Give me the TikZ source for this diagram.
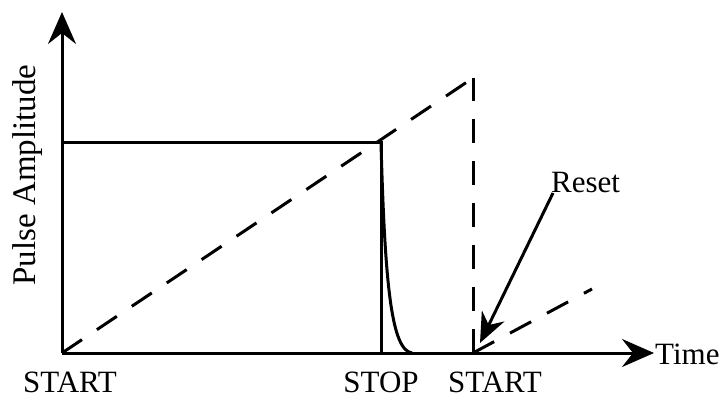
\documentclass[tikz,border=0pt]{standalone}
\usepackage{fontspec}
\setmainfont{Liberation Serif}
\usetikzlibrary{arrows.meta}
\begin{document}
\begin{tikzpicture}[x=1pt,y=-1pt,
  solidline/.style={line width=3pt},
  dashline/.style={line width=3pt, dash pattern=on 24pt off 18pt},
  axisarrow/.style={-{Stealth[length=32pt,width=28pt,inset=11pt]}},
  lbl/.style={font=\fontsize{31}{31}\selectfont, inner sep=0pt}]
\useasboundingbox (0,0) rectangle (722,398);
\coordinate (O) at (62,353);
\coordinate (Ytop) at (62,12);
\coordinate (Xend) at (654,353);
\coordinate (H0) at (62,143);
\coordinate (H1) at (381,143);
\coordinate (S) at (381,353);
\coordinate (D) at (412,353);
\coordinate (P) at (473,78);
\coordinate (R) at (473,353);
\coordinate (R2) at (592,289);
\coordinate (Rt) at (480,343);
\coordinate (Rs) at (553,193);
% axes
\draw[solidline, axisarrow] (O) -- (Ytop);
\draw[solidline, axisarrow] (O) -- (Xend);
% pulse
\draw[solidline] (H0) -- (H1) -- (S);
\draw[solidline] (H1) .. controls (385,290) and (392,350) .. (D);
% ramps
\draw[dashline] (O) -- (P);
\draw[dashline] (R) -- (P);
\draw[dashline] (R) -- (R2);
% labels
\node[lbl, font=\fontsize{33}{33}\selectfont, rotate=90, anchor=base] (yl) at (35,175) {Pulse Amplitude};
\node[lbl, anchor=base west] (tl) at (655,364) {Time};
\node[lbl, anchor=base] (s1) at (70,392) {START};
\node[lbl, anchor=base] (st) at (381,392) {STOP};
\node[lbl, anchor=base] (s2) at (495,392) {START};
\node[lbl, anchor=base west] (rs) at (551,193) {Reset};
\draw[solidline, -{Stealth[length=30pt,width=25pt,inset=10pt]}] (Rs) -- (Rt);
\end{tikzpicture}
\end{document}
